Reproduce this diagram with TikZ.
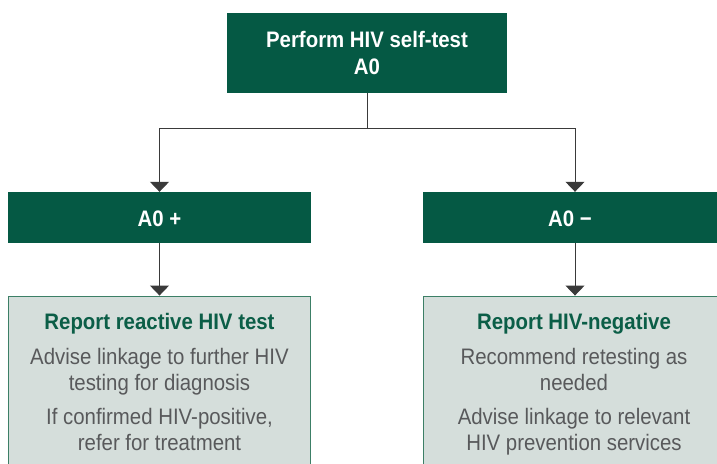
\documentclass[tikz,border=0pt]{standalone}
\usepackage{fontspec}
\setmainfont[FakeStretch=0.91]{Liberation Sans}
\usetikzlibrary{arrows.meta}
\definecolor{darkgreen}{HTML}{055944}
\definecolor{titlegreen}{HTML}{0B5E47}
\definecolor{bodygrey}{HTML}{58595B}
\definecolor{lightfill}{HTML}{D5DEDB}
\definecolor{boxborder}{HTML}{3C7F66}
\definecolor{linecol}{HTML}{3A3A3A}
\tikzset{
  darkbox/.style={fill=darkgreen, draw=none, inner sep=0pt},
  lightbox/.style={fill=lightfill, draw=boxborder, line width=0.9bp, inner sep=0pt},
  txt/.style={anchor=base, inner sep=0pt, font=\fontsize{22.5}{26}\selectfont},
  wtitle/.style={txt, text=white, font=\fontsize{22.5}{26}\selectfont\bfseries},
  gtitle/.style={txt, text=titlegreen, font=\fontsize{22.5}{26}\selectfont\bfseries},
  body/.style={txt, text=bodygrey},
  conn/.style={draw=linecol, line width=1bp},
  arr/.style={conn, -{Triangle[width=19bp,length=10bp]}, shorten >=0pt}
}
\begin{document}
\begin{tikzpicture}[x=1bp,y=-1bp]
\useasboundingbox (0,0) rectangle (717,464);
\clip (0,0) rectangle (717,464);
% boxes
\node[darkbox, minimum width=280bp, minimum height=80bp] (top) at (367,53) {};
\node[darkbox, minimum width=303bp, minimum height=51bp] (pos) at (159.5,217.5) {};
\node[darkbox, minimum width=304bp, minimum height=51bp] (neg) at (575,217.5) {};
\node[lightbox, minimum width=302bp, minimum height=190bp] (posr) at (159.5,391) {};
\node[lightbox, minimum width=304bp, minimum height=190bp] (negr) at (575,391) {};
% texts
\node[wtitle] (t1) at (367,48) {Perform HIV self-test};
\node[wtitle] (t2) at (367,75) {A0};
\node[wtitle] (p1) at (159.5,226.5) {A0 +};
\node[wtitle] (n1) at (570,226.5) {A0 −};
\node[gtitle] (pa) at (159.5,330) {Report reactive HIV test};
\node[body] (pb) at (159.5,364) {Advise linkage to further HIV};
\node[body] (pc) at (159.5,390) {testing for diagnosis};
\node[body] (pd) at (159.5,424) {If confirmed HIV-positive,};
\node[body] (pe) at (159.5,450) {refer for treatment};
\node[gtitle] (na) at (574,330) {Report HIV-negative};
\node[body] (nb) at (574,364) {Recommend retesting as};
\node[body] (nc) at (574,390) {needed};
\node[body] (nd) at (574,424) {Advise linkage to relevant};
\node[body] (ne) at (574,450) {HIV prevention services};
% connectors
\coordinate (split) at (367,129);
\draw[conn] (top.south) -- (split);
\draw[arr] (split) -| (pos.north);
\draw[arr] (split) -| (neg.north);
\draw[arr] (pos.south) -- (posr.north);
\draw[arr] (neg.south) -- (negr.north);
\end{tikzpicture}
\end{document}
